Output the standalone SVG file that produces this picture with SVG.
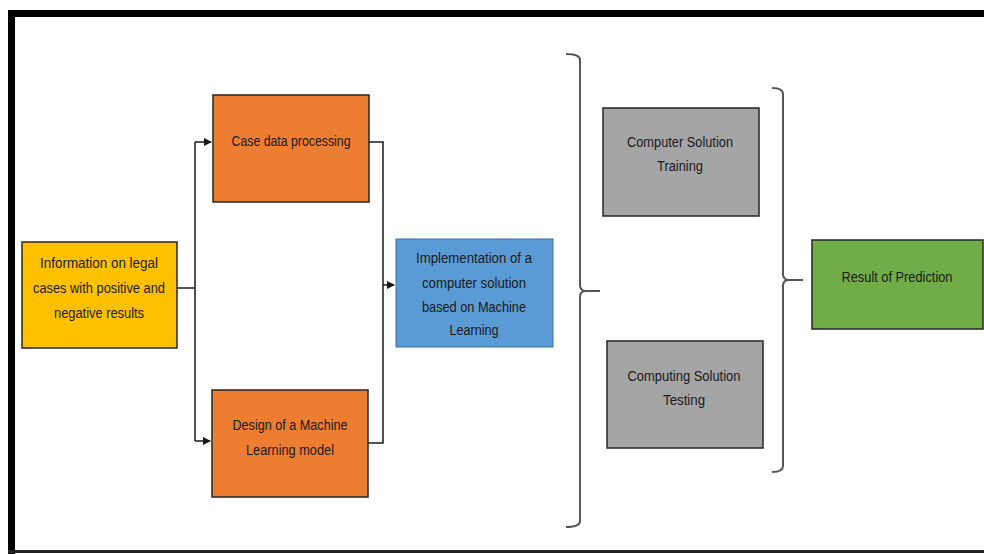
<svg xmlns="http://www.w3.org/2000/svg" width="984" height="554" viewBox="0 0 984 554">
<style>
.box{stroke:#262626;stroke-width:1.5}
.t{font-family:"Liberation Sans",Arial,sans-serif;font-size:14px;fill:#1a1a1a;text-anchor:middle}
.c{fill:none;stroke:#1a1a1a;stroke-width:1.5}
.br{fill:none;stroke:#555;stroke-width:2}
</style>
<defs>
<marker id="ah" markerWidth="8" markerHeight="8" refX="7" refY="4" orient="auto" markerUnits="userSpaceOnUse">
<path d="M0,0 L8,4 L0,8 Z" fill="#1a1a1a"/>
</marker>
</defs>
<rect width="984" height="554" fill="#fff"/>
<g id="frame">
<rect x="8" y="10" width="976" height="7" fill="#000"/>
<rect x="8" y="10" width="7" height="544" fill="#000"/>
<rect x="8" y="550" width="976" height="3" fill="#222"/>
</g>
<g id="connectors">
<path class="c" d="M177,288 H195"/>
<path class="c" d="M195,142 V441"/>
<path class="c" d="M195,142 H211" marker-end="url(#ah)"/>
<path class="c" d="M195,441 H210" marker-end="url(#ah)"/>
<path class="c" d="M369,142 H383 V443 H368"/>
<path class="c" d="M383,285 H394" marker-end="url(#ah)"/>
</g>
<g id="brace1">
<path class="br" d="M566,54 Q580,54 580,60 V285 Q580,291 586,291 H600 M586,291 Q580,291 580,297 V521 Q580,527 566,527"/>
</g>
<g id="brace2">
<path class="br" d="M772,88 Q783,88 783,94 V274 Q783,280 789,280 H803 M789,280 Q783,280 783,286 V466 Q783,472 772,472"/>
</g>
<g id="info">
<rect class="box" x="22" y="242" width="155" height="106" fill="#FFC000"/>
<text class="t" x="99" y="268" textLength="118" lengthAdjust="spacingAndGlyphs">Information on legal</text>
<text class="t" x="99" y="293" textLength="132" lengthAdjust="spacingAndGlyphs">cases with positive and</text>
<text class="t" x="99" y="318" textLength="90" lengthAdjust="spacingAndGlyphs">negative results</text>
</g>
<g id="case">
<rect class="box" x="213" y="95" width="156" height="107" fill="#ED7D31"/>
<text class="t" x="291" y="146" textLength="119" lengthAdjust="spacingAndGlyphs">Case data processing</text>
</g>
<g id="design">
<rect class="box" x="212" y="390" width="156" height="107" fill="#ED7D31"/>
<text class="t" x="290" y="430" textLength="115" lengthAdjust="spacingAndGlyphs">Design of a Machine</text>
<text class="t" x="290" y="455" textLength="88" lengthAdjust="spacingAndGlyphs">Learning model</text>
</g>
<g id="impl">
<rect x="396" y="239" width="157" height="108" fill="#5B9BD5" stroke="#41719C" stroke-width="1"/>
<text class="t" x="474" y="263" textLength="116" lengthAdjust="spacingAndGlyphs">Implementation of a</text>
<text class="t" x="474" y="288" textLength="104" lengthAdjust="spacingAndGlyphs">computer solution</text>
<text class="t" x="474" y="312" textLength="104" lengthAdjust="spacingAndGlyphs">based on Machine</text>
<text class="t" x="474" y="335" textLength="49" lengthAdjust="spacingAndGlyphs">Learning</text>
</g>
<g id="training">
<rect class="box" x="603" y="108" width="156" height="108" fill="#A5A5A5"/>
<text class="t" x="680" y="147" textLength="106" lengthAdjust="spacingAndGlyphs">Computer Solution</text>
<text class="t" x="680" y="171" textLength="46" lengthAdjust="spacingAndGlyphs">Training</text>
</g>
<g id="testing">
<rect class="box" x="607" y="341" width="156" height="107" fill="#A5A5A5"/>
<text class="t" x="684" y="381" textLength="113" lengthAdjust="spacingAndGlyphs">Computing Solution</text>
<text class="t" x="684" y="405" textLength="42" lengthAdjust="spacingAndGlyphs">Testing</text>
</g>
<g id="result">
<rect class="box" x="812" y="240" width="171" height="89" fill="#70AD47"/>
<text class="t" x="897" y="282" textLength="111" lengthAdjust="spacingAndGlyphs">Result of Prediction</text>
</g>
</svg>
